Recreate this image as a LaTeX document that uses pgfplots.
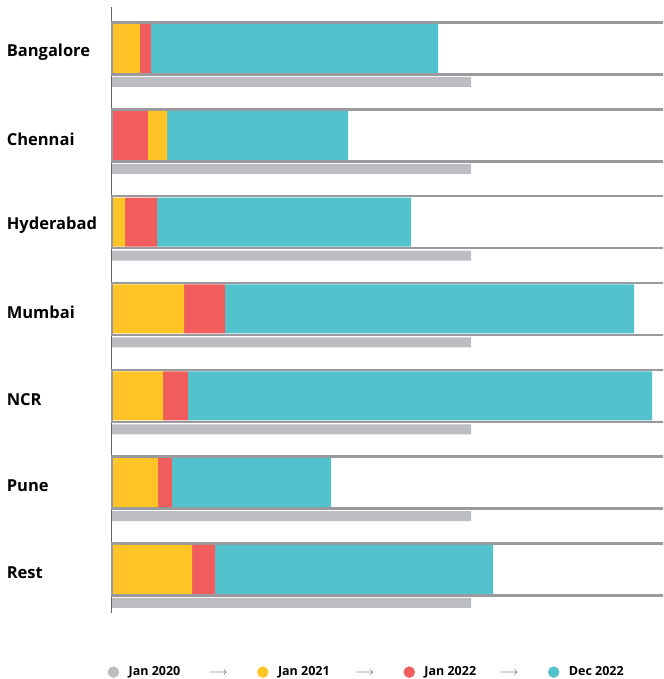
\documentclass[border=0pt]{standalone}
\usepackage{fontspec}
\setmainfont{Open Sans}
\usepackage{pgfplots}
\pgfplotsset{compat=1.18}

\definecolor{cyel}{HTML}{FFC425}
\definecolor{cred}{HTML}{F05D5C}
\definecolor{cteal}{HTML}{52C3CD}
\definecolor{cgray}{HTML}{BCBDC0}
\definecolor{cborder}{HTML}{9A9A9E}
\definecolor{caxis}{HTML}{666666}
\definecolor{carrow}{HTML}{555555}

% category centres, in pixels from the top (negated)
\def\cats{-48.5,-135.33,-222.17,-309,-395.83,-482.67,-569.5}

\pgfplotsset{base/.style={
  at={(111pt,66pt)}, anchor=south west,
  scale only axis, width=552pt, height=606pt,
  xmin=-1, xmax=551, ymin=-613, ymax=-7,
  xtick=\empty, ytick=\cats, major tick length=0pt,
}}

\newcommand{\arr}[1]{\hspace{#1}{\color{carrow}\fontsize{13}{13}\selectfont$\longrightarrow$}}

\begin{document}
\begin{tikzpicture}
% frames and Jan 2020 bars
\begin{axis}[base,
  axis lines*=left,
  x axis line style={draw=none},
  y axis line style={draw=caxis, line width=1pt},
  yticklabels={Bangalore,Chennai,Hyderabad,Mumbai,NCR,Pune,Rest},
  yticklabel style={font=\fontsize{16.5}{17}\selectfont\bfseries,
    text width=104pt, align=left, inner sep=0pt, yshift=-3.5pt},
]
\addplot[xbar, bar width=52pt, fill=white, draw=cborder, line width=2.5pt]
  coordinates {(700,-48.5) (700,-135.33) (700,-222.17) (700,-309) (700,-395.83) (700,-482.67) (700,-569.5)};
\addplot[xbar, bar width=10pt, bar shift=-33.5pt, fill=cgray, draw=none]
  coordinates {(359,-48.5) (359,-135.33) (359,-222.17) (359,-309) (359,-395.83) (359,-482.67) (359,-569.5)};
\end{axis}

% stacked segments
\begin{axis}[base, hide axis, xbar stacked, bar width=49pt,
  legend columns=-1,
  legend style={at={(-0.0063,-0.0975)}, anchor=west, draw=none, fill=none,
    inner sep=0pt, font=\fontsize{12.5}{13}\selectfont\bfseries,
    nodes={inner sep=0pt},
    /tikz/every odd column/.append style={column sep=9.5pt},
    /tikz/every even column/.append style={column sep=29.5pt}},
]
\addplot[draw=none, fill=none, forget plot]
  coordinates {(1,-48.5) (1,-135.33) (1,-222.17) (1,-309) (1,-395.83) (1,-482.67) (1,-569.5)};
\addplot[draw=none, fill=cred, forget plot]
  coordinates {(0,-48.5) (35,-135.33) (0,-222.17) (0,-309) (0,-395.83) (0,-482.67) (0,-569.5)};
\addplot[draw=none, fill=cyel, forget plot]
  coordinates {(27,-48.5) (19,-135.33) (12,-222.17) (71,-309) (50,-395.83) (45,-482.67) (79,-569.5)};
\addplot[draw=none, fill=cred, forget plot]
  coordinates {(11,-48.5) (0,-135.33) (32,-222.17) (41,-309) (25,-395.83) (14,-482.67) (23,-569.5)};
\addplot[draw=none, fill=cteal, forget plot]
  coordinates {(287,-48.5) (181,-135.33) (254,-222.17) (409,-309) (464,-395.83) (159,-482.67) (278,-569.5)};

\addlegendimage{color=cgray, legend image code/.code={\fill (0pt,0pt) circle (5.5pt);}}
\addlegendentry{Jan 2020\arr{28pt}}
\addlegendimage{color=cyel, legend image code/.code={\fill (0pt,0pt) circle (5.5pt);}}
\addlegendentry{Jan 2021\arr{25pt}}
\addlegendimage{color=cred, legend image code/.code={\fill (0pt,0pt) circle (5.5pt);}}
\addlegendentry{Jan 2022\arr{23pt}}
\addlegendimage{color=cteal, legend image code/.code={\fill (0pt,0pt) circle (5.5pt);}}
\addlegendentry{Dec 2022}
\end{axis}
\pgfresetboundingbox
\path[use as bounding box] (0,0) rectangle (663pt,679pt);
\end{tikzpicture}
\end{document}
